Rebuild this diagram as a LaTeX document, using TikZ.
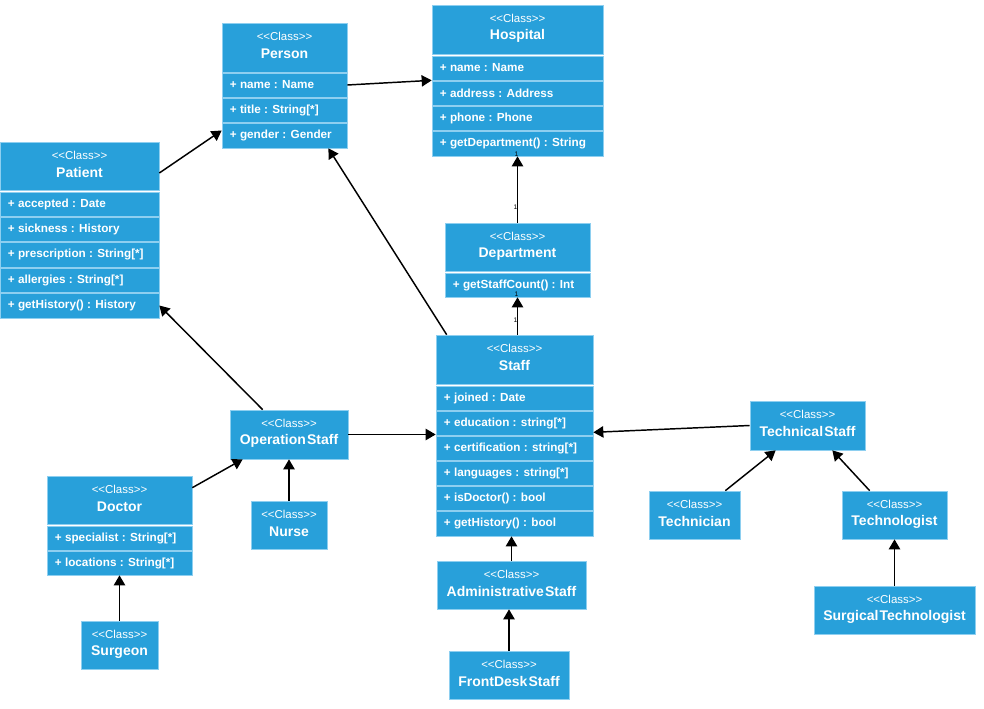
\documentclass[tikz,border=0pt]{standalone}
\usepackage{fontspec}
\setmainfont{Liberation Sans}
\newfontfamily\tightfont[WordSpace=0.3]{Liberation Sans}
\usetikzlibrary{arrows.meta,fit,calc}
\definecolor{cblue}{HTML}{28A0DA}
\definecolor{cedge}{HTML}{8ECFF0}
\tikzset{
  comp/.style={fill=cblue, draw=cedge, line width=0.5pt, inner sep=0pt},
  stereo/.style={text=white, font=\fontsize{8.6}{9}\selectfont, inner sep=0pt},
  cname/.style={text=white, font=\tightfont\bfseries\fontsize{10.5}{12}\selectfont, inner sep=0pt},
  attr/.style={text=white, font=\bfseries\fontsize{8.8}{10}\selectfont, inner sep=0pt, anchor=west},
  conn/.style={line width=1.1pt, -{Triangle[length=7.5pt,width=8.5pt]}},
  mult/.style={font=\fontsize{5}{6}\selectfont, inner sep=0pt, text=black}
}
\newcommand\umlcomp[5]{\node[comp, fit={(#2,#3) (#4,#5)}] (#1) {};}
\newcommand\umlhead[2]{%
  \node[stereo] (#1-st) at ($(#1.north)+(0,13.5)$) {<\kern0pt<\kern0pt Class\kern0pt>\kern0pt>};
  \node[cname] (#1-nm) at ($(#1.north)+(0,31)$) {#2};}
\newcommand\umlattr[2]{\node[attr] (#1-tx) at ($(#1.west)+(8,0)$) {#2};}
\begin{document}
\begin{tikzpicture}[x=0.75pt,y=-0.75pt]
\fill[white] (0,0) rectangle (984,709);
\path[use as bounding box] (0,0) rectangle (984,709);

% Person
\umlcomp{person-h}{222}{23}{347}{72}
\umlcomp{person-1}{222}{73}{347}{97}
\umlcomp{person-2}{222}{98}{347}{122}
\umlcomp{person-3}{222}{123}{347}{148}
\umlhead{person-h}{Person}
\umlattr{person-1}{+ name : Name}
\umlattr{person-2}{+ title : String[*]}
\umlattr{person-3}{+ gender : Gender}

% Hospital
\umlcomp{hospital-h}{432}{5}{603}{54}
\umlcomp{hospital-1}{432}{56}{603}{80}
\umlcomp{hospital-2}{432}{81}{603}{105}
\umlcomp{hospital-3}{432}{106}{603}{130}
\umlcomp{hospital-4}{432}{131}{603}{156}
\umlhead{hospital-h}{Hospital}
\umlattr{hospital-1}{+ name : Name}
\umlattr{hospital-2}{+ address : Address}
\umlattr{hospital-3}{+ phone : Phone}
\umlattr{hospital-4}{+ getDepartment() : String}

% Patient
\umlcomp{patient-h}{0}{142}{159}{190}
\umlcomp{patient-1}{0}{192}{159}{216}
\umlcomp{patient-2}{0}{217}{159}{241}
\umlcomp{patient-3}{0}{242}{159}{267}
\umlcomp{patient-4}{0}{268}{159}{292}
\umlcomp{patient-5}{0}{293}{159}{318}
\umlhead{patient-h}{Patient}
\umlattr{patient-1}{+ accepted : Date}
\umlattr{patient-2}{+ sickness : History}
\umlattr{patient-3}{+ prescription : String[*]}
\umlattr{patient-4}{+ allergies : String[*]}
\umlattr{patient-5}{+ getHistory() : History}

% Department
\umlcomp{department-h}{445}{223}{590}{271}
\umlcomp{department-1}{445}{273}{590}{297}
\umlhead{department-h}{Department}
\umlattr{department-1}{+ getStaffCount() : Int}

% Staff
\umlcomp{staff-h}{436}{335}{593}{384}
\umlcomp{staff-1}{436}{386}{593}{410}
\umlcomp{staff-2}{436}{411}{593}{435}
\umlcomp{staff-3}{436}{436}{593}{460}
\umlcomp{staff-4}{436}{461}{593}{485}
\umlcomp{staff-5}{436}{486}{593}{510}
\umlcomp{staff-6}{436}{511}{593}{536}
\umlhead{staff-h}{Staff}
\umlattr{staff-1}{+ joined : Date}
\umlattr{staff-2}{+ education : string[*]}
\umlattr{staff-3}{+ certification : string[*]}
\umlattr{staff-4}{+ languages : string[*]}
\umlattr{staff-5}{+ isDoctor() : bool}
\umlattr{staff-6}{+ getHistory() : bool}

% Operation staff, Nurse
\umlcomp{opstaff}{230}{410}{348}{459}
\umlhead{opstaff}{Operation Staff}
\umlcomp{nurse}{251}{501}{327}{549}
\umlhead{nurse}{Nurse}

% Doctor, Surgeon
\umlcomp{doctor-h}{47}{476}{192}{524}
\umlcomp{doctor-1}{47}{526}{192}{550}
\umlcomp{doctor-2}{47}{551}{192}{575}
\umlhead{doctor-h}{Doctor}
\umlattr{doctor-1}{+ specialist : String[*]}
\umlattr{doctor-2}{+ locations : String[*]}
\umlcomp{surgeon}{81}{621}{158}{669}
\umlhead{surgeon}{Surgeon}

% Administrative
\umlcomp{admin}{437}{561}{586}{609}
\umlhead{admin}{Administrative Staff}
\umlcomp{frontdesk}{449}{651}{569}{699}
\umlhead{frontdesk}{FrontDesk Staff}

% Technical
\umlcomp{techstaff}{750}{401}{865}{450}
\umlhead{techstaff}{Technical Staff}
\umlcomp{technician}{649}{491}{740}{539}
\umlhead{technician}{Technician}
\umlcomp{technologist}{842}{491}{947}{539}
\umlhead{technologist}{Technologist}
\umlcomp{surgtech}{814}{586}{975}{634}
\umlhead{surgtech}{Surgical Technologist}

% Connectors
\draw[conn] (person-1.east) -- (hospital-1.south west);
\draw[conn] ($(patient-h.east)+(0,7)$) -- ($(person-3.west)+(0,-5)$);
\draw[conn] ($(staff-h.north west)+(11,0)$) -- ($(person-3.south east)+(-19,0)$);
\draw[conn] (department-h.north) -- (hospital-4.south);
\draw[conn] (department-1.south |- staff-h.north) -- (department-1.south);
\draw[conn] (opstaff.east) -- (opstaff.east -| staff-h.west);
\draw[conn] ($(opstaff.north west)+(33,0)$) -- (patient-5.east);
\draw[conn] ($(doctor-h.north east)+(0,12)$) -- ($(opstaff.south west)+(13,0)$);
\draw[conn] (nurse.north) -- (nurse.north |- opstaff.south);
\draw[conn] (surgeon.north) -- (surgeon.north |- doctor-2.south);
\draw[conn] (admin.north) -- (admin.north |- staff-6.south);
\draw[conn] (frontdesk.north) -- (frontdesk.north |- admin.south);
\draw[conn] (techstaff.west) -- ($(staff-2.south east)+(0,-3)$);
\draw[conn] ($(technician.north east)+(-15,0)$) -- ($(techstaff.south west)+(26,0)$);
\draw[conn] ($(technologist.north west)+(28,0)$) -- ($(techstaff.south east)+(-33,0)$);
\draw[conn] (surgtech.north) -- (surgtech.north |- technologist.south);

% multiplicities
\node[mult] (m1) at ($(hospital-4.south)+(-1,-2.5)$) {1};
\node[mult] (m2) at ($(department-h.north)+(-2,-15)$) {1};
\node[mult] (m3) at ($(department-1.south)+(-1,-3)$) {1};
\node[mult] (m4) at ($(department-1.south)+(-2,23)$) {1};
\end{tikzpicture}
\end{document}
